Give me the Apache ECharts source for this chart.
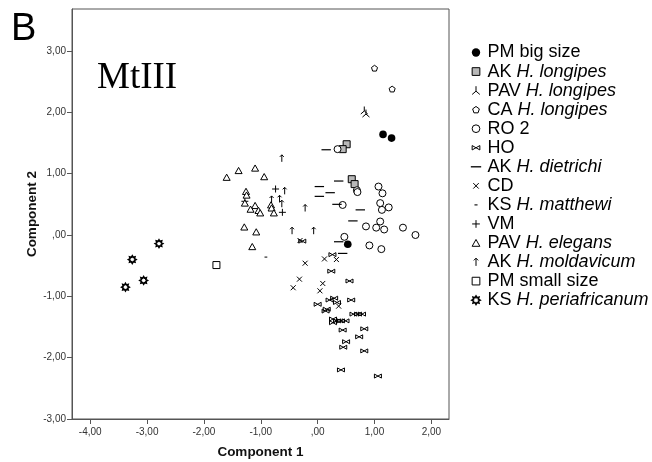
<!DOCTYPE html>
<html><head><meta charset="utf-8">
<script src="https://cdn.jsdelivr.net/npm/echarts@6/dist/echarts.min.js"></script>
<style>html,body{margin:0;padding:0;background:#fff}#c{width:652px;height:462px}</style>
</head><body><div id="c"></div>
<script>
// ---- tick values / labels ----
const xTickValues = [-4, -3, -2, -1, 0, 1, 2];
const xTickLabels = ['-4,00', '-3,00', '-2,00', '-1,00', ',00', '1,00', '2,00'];
const yTickValues = [-3, -2, -1, 0, 1, 2, 3];
const yTickLabels = ['-3,00', '-2,00', '-1,00', ',00', '1,00', '2,00', '3,00'];

// ---- series values [Component 1, Component 2] ----
const pmBigSize = [[1.15,1.64],[1.30,1.58],[0.53,-0.15]];
const akLongipes = [[0.51,1.48],[0.44,1.40],[0.60,0.91],[0.65,0.83]];
const pavLongipes = [[0.82,2.03],[0.85,1.98]];
const caLongipes = [[1.00,2.72],[1.31,2.38]];
const ro2 = [[0.35,1.40],[0.69,0.73],[0.70,0.70],[1.07,0.79],[1.14,0.68],[0.44,0.49],[1.10,0.52],[1.25,0.45],[1.13,0.41],[1.10,0.22],[0.85,0.14],[1.03,0.12],[1.17,0.09],[1.50,0.12],[1.72,0.00],[0.47,-0.03],[0.91,-0.17],[1.12,-0.23]];
const ho = [[-0.27,-0.10],[0.26,-0.32],[0.24,-0.59],[0.56,-0.75],[0.29,-1.03],[0.21,-1.06],[0.34,-1.10],[0.00,-1.13],[0.59,-1.06],[0.16,-1.21],[0.14,-1.24],[0.63,-1.29],[0.71,-1.29],[0.78,-1.29],[0.27,-1.37],[0.27,-1.43],[0.34,-1.40],[0.41,-1.40],[0.49,-1.40],[0.44,-1.55],[0.82,-1.53],[0.73,-1.66],[0.50,-1.74],[0.45,-1.83],[0.82,-1.89],[0.41,-2.20],[1.06,-2.30]];
const akDietrichi = [[0.15,1.39],[0.37,0.88],[0.03,0.79],[0.22,0.69],[0.03,0.63],[0.34,0.50],[0.75,0.41],[0.62,0.23],[0.37,-0.11],[0.44,-0.30]];
const cd = [[-0.31,-0.09],[-0.22,-0.46],[0.12,-0.39],[0.33,-0.40],[-0.32,-0.72],[-0.43,-0.86],[0.09,-0.79],[0.04,-0.91],[0.37,-1.16]];
const ksMatthewi = [[-0.91,-0.36]];
const vm = [[-0.74,0.75],[-0.62,0.37],[-1.28,0.55]];
const pavElegans = [[-1.60,0.94],[-1.39,1.05],[-1.10,1.09],[-0.94,0.95],[-1.26,0.71],[-1.25,0.65],[-1.28,0.52],[-1.10,0.48],[-1.18,0.42],[-1.04,0.40],[-1.01,0.36],[-0.82,0.49],[-0.81,0.44],[-0.77,0.36],[-1.29,0.13],[-1.08,0.05],[-1.15,-0.19]];
const akMoldavicum = [[-0.63,1.25],[-0.58,0.72],[-0.81,0.58],[-0.67,0.59],[-0.63,0.51],[-0.22,0.44],[-0.45,0.07],[-0.07,0.07]];
const pmSmallSize = [[-1.78,-0.49]];
const ksPeriafricanum = [[-2.79,-0.14],[-3.26,-0.40],[-3.06,-0.74],[-3.38,-0.85]];

// ---- symbol shapes (10x10 box, padded) ----
const PAD = ' M0,0 M10,10';
const shapes = {
  disc: 'M5,1.2 A3.8,3.8 0 1,1 5,8.8 A3.8,3.8 0 1,1 5,1.2 Z',
  circle: 'M5,1.5 A3.5,3.5 0 1,1 5,8.5 A3.5,3.5 0 1,1 5,1.5 Z',
  square: 'M1.5,1.5 H8.5 V8.5 H1.5 Z',
  tristar: 'M5,1 V5.5 M5,5.5 L1.5,8.5 M5,5.5 L8.5,8.5',
  pentagon: 'M5,2.1 L8.04,4.31 L6.88,7.89 L3.12,7.89 L1.96,4.31 Z',
  bowtie: 'M1.5,3 V7 L8.5,3 V7 Z',
  longdash: 'M0.3,4.4 H9.7 V5.6 H0.3 Z',
  cross: 'M2.5,2.5 L7.5,7.5 M7.5,2.5 L2.5,7.5',
  shortdash: 'M3.6,4.5 H6.4 V5.5 H3.6 Z',
  plus: 'M5,1.5 V8.5 M1.5,5 H8.5',
  triangle: 'M5,1.8 L8.5,8 L1.5,8 Z',
  arrow: 'M5,1.5 V8.5 M3,3.5 L5,1.5 L7,3.5',
  gear: 'M5,1.2 L5.92,2.78 L7.69,2.31 L7.22,4.08 L8.8,5 L7.22,5.92 L7.69,7.69 L5.92,7.22 L5,8.8 L4.08,7.22 L2.31,7.69 L2.78,5.92 L1.2,5 L2.78,4.08 L2.31,2.31 L4.08,2.78 Z'
};

const seriesDefs = [
  { name: 'PM big size', data: pmBigSize, shape: 'disc', fill: '#000', bw: 0 },
  { name: 'AK H. longipes', data: akLongipes, shape: 'square', fill: '#b8b8b8', bw: 1 },
  { name: 'PAV H. longipes', data: pavLongipes, shape: 'tristar', fill: 'none', bw: 1 },
  { name: 'CA H. longipes', data: caLongipes, shape: 'pentagon', fill: '#fff', bw: 1 },
  { name: 'RO 2', data: ro2, shape: 'circle', fill: '#fff', bw: 1 },
  { name: 'HO', data: ho, shape: 'bowtie', fill: 'none', bw: 1 },
  { name: 'AK H. dietrichi', data: akDietrichi, shape: 'longdash', fill: '#000', bw: 0 },
  { name: 'CD', data: cd, shape: 'cross', fill: 'none', bw: 1 },
  { name: 'KS H. matthewi', data: ksMatthewi, shape: 'shortdash', fill: '#000', bw: 0 },
  { name: 'VM', data: vm, shape: 'plus', fill: 'none', bw: 1 },
  { name: 'PAV H. elegans', data: pavElegans, shape: 'triangle', fill: '#fff', bw: 1 },
  { name: 'AK H. moldavicum', data: akMoldavicum, shape: 'arrow', fill: 'none', bw: 1 },
  { name: 'PM small size', data: pmSmallSize, shape: 'square', fill: '#fff', bw: 1 },
  { name: 'KS H. periafricanum', data: ksPeriafricanum, shape: 'gear', fill: '#fff', bw: 1.6 }
];

const labelOf = (vals, labels) => v => { const i = vals.indexOf(Math.round(v * 1000) / 1000); return i >= 0 ? labels[i] : ''; };

const chart = echarts.init(document.getElementById('c'), null, { renderer: 'canvas' });
chart.setOption({
  animation: false,
  backgroundColor: '#fff',
  grid: { left: 72, right: 203, top: 9, bottom: 43, show: true, borderColor: '#555', borderWidth: 1, backgroundColor: 'transparent', containLabel: false, outerBoundsMode: 'none' },
  xAxis: {
    type: 'value', min: -4.32, max: 2.31,
    splitLine: { show: false },
    axisLine: { show: true, onZero: false, lineStyle: { color: '#555', width: 1 } },
    axisTick: { show: true, length: 5, customValues: xTickValues, lineStyle: { color: '#555' } },
    axisLabel: { customValues: xTickValues, formatter: labelOf(xTickValues, xTickLabels), fontFamily: 'Liberation Sans', fontSize: 10, color: '#333', margin: 8 },
    name: 'Component 1', nameLocation: 'middle', nameGap: 26, nameMoveOverlap: false,
    nameTextStyle: { fontFamily: 'Liberation Sans', fontWeight: 'bold', fontSize: 13.5, color: '#111' }
  },
  yAxis: {
    type: 'value', min: -3, max: 3.685,
    splitLine: { show: false },
    axisLine: { show: true, onZero: false, lineStyle: { color: '#555', width: 1 } },
    axisTick: { show: true, length: 5, customValues: yTickValues, lineStyle: { color: '#555' } },
    axisLabel: { customValues: yTickValues, formatter: labelOf(yTickValues, yTickLabels), fontFamily: 'Liberation Sans', fontSize: 10, color: '#333', margin: 6 },
    name: 'Component 2', nameLocation: 'middle', nameGap: 33, nameRotate: 90, nameMoveOverlap: false,
    nameTextStyle: { fontFamily: 'Liberation Sans', fontWeight: 'bold', fontSize: 13.5, color: '#111' }
  },
  legend: {
    orient: 'vertical', left: 463, top: 38,
    itemWidth: 13, itemHeight: 11, itemGap: 0.05,
    data: seriesDefs.map(s => ({ name: s.name, itemStyle: { borderWidth: s.bw } })),
    formatter: name => { const i = name.indexOf('H. '); return i < 0 ? '{n|' + name + '}' : '{n|' + name.slice(0, i) + '}{i|' + name.slice(i) + '}'; },
    textStyle: {
      fontFamily: 'Liberation Sans', fontSize: 18, color: '#000', lineHeight: 19,
      rich: {
        n: { fontFamily: 'Liberation Sans', fontSize: 18, color: '#000', lineHeight: 19 },
        i: { fontFamily: 'Liberation Sans', fontSize: 18, fontStyle: 'italic', color: '#000', lineHeight: 19 }
      }
    },
    selectedMode: false
  },
  graphic: [
    { type: 'text', left: 11, top: 11, style: { text: 'B', font: '38px "Liberation Sans"', fill: '#000' } },
    { type: 'text', left: 97, top: 60, style: { text: 'MtIII', font: '37px "Liberation Serif"', fill: '#000' } }
  ],
  series: seriesDefs.map(s => ({
    type: 'scatter', name: s.name, data: s.data,
    symbol: 'path://' + shapes[s.shape] + PAD, symbolSize: 10,
    itemStyle: { color: s.fill, borderColor: '#000', borderWidth: s.bw, opacity: 1 },
    emphasis: { disabled: true }
  }))
});
</script></body></html>
